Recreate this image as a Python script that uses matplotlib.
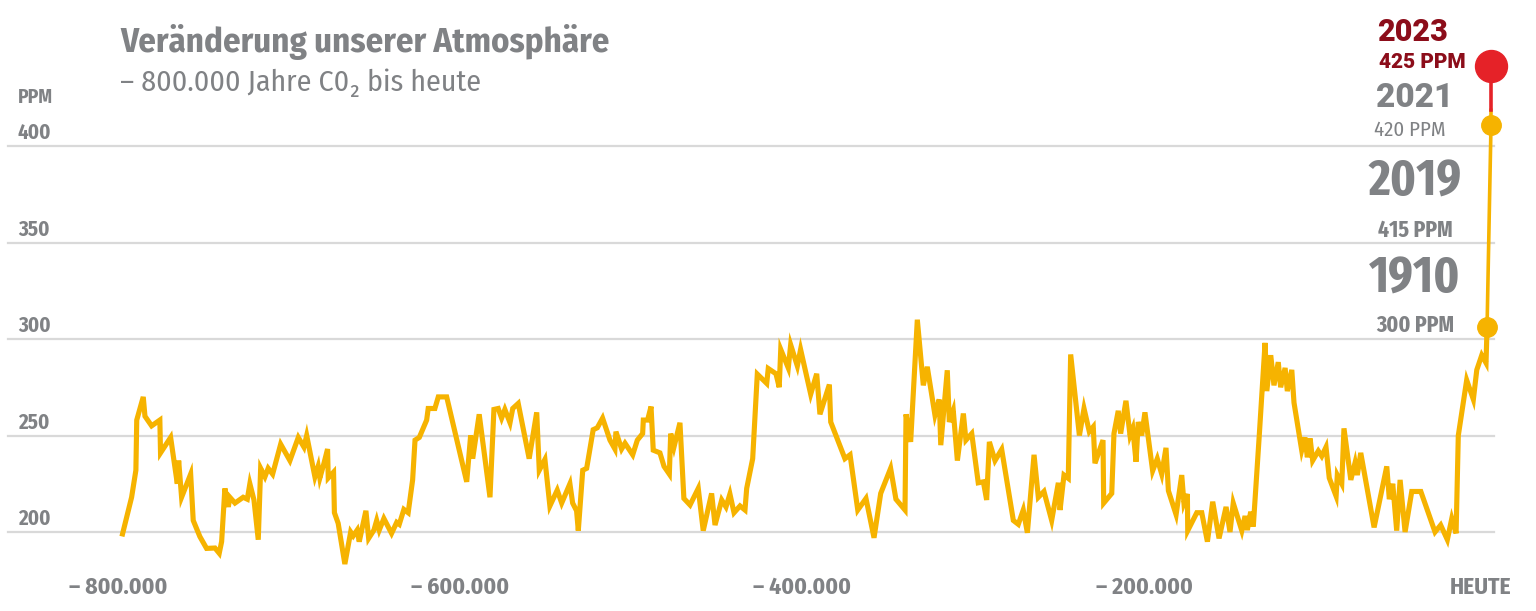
## CO2 concentration over the last 800.000 years

import matplotlib.pyplot as plt

# time in thousand years before today (0 = today), CO2 in ppm
kyr = [-797.3, -792.0, -789.5, -789.0, -785.2, -784.2, -780.3, -775.5, -775.1, -769.2,
       -765.3, -764.5, -762.8, -757.5, -756.0, -752.1, -748.2, -743.3, -740.8, -739.4,
       -737.5, -735.5, -734.6, -731.6, -726.8, -724.4, -722.9, -720.5, -718.0, -716.6,
       -714.1, -712.2, -709.6, -704.9, -699.5, -694.6, -691.3, -689.7, -684.9, -683.0,
       -682.0, -679.6, -677.5, -677.1, -674.0, -673.5, -671.3, -667.4, -664.0, -662.5,
       -660.2, -659.0, -655.1, -653.5, -650.4, -648.8, -647.3, -644.6, -640.1, -637.1,
       -635.6, -632.9, -630.4, -627.8, -626.4, -623.9, -619.6, -618.7, -614.8, -612.8,
       -607.9, -596.2, -593.9, -592.7, -588.9, -582.6, -580.3, -577.8, -575.8, -573.9,
       -570.9, -569.3, -566.1, -559.7, -555.3, -553.8, -550.5, -547.6, -543.3, -540.7,
       -535.9, -534.3, -532.0, -531.0, -528.4, -526.1, -522.3, -519.9, -516.8, -512.5,
       -509.6, -509.0, -505.7, -503.7, -499.2, -496.5, -493.4, -493.0, -490.5, -488.5,
       -487.2, -483.3, -480.9, -477.8, -477.0, -475.1, -471.6, -469.3, -465.7, -460.9,
       -458.0, -453.1, -451.1, -447.2, -444.7, -442.4, -440.0, -436.5, -433.6, -432.6,
       -429.1, -426.4, -420.9, -420.0, -415.5, -413.6, -412.7, -408.3, -406.9, -403.0,
       -401.1, -395.2, -391.7, -389.8, -384.3, -383.5, -375.2, -372.2, -367.7, -362.9,
       -358.2, -354.3, -348.5, -345.4, -340.1, -339.5, -336.8, -332.9, -329.4, -327.1,
       -322.6, -320.1, -319.2, -315.4, -314.2, -311.9, -309.5, -306.0, -304.5, -301.1,
       -297.3, -294.3, -292.4, -290.8, -287.5, -283.6, -276.8, -273.9, -271.0, -268.6,
       -264.7, -262.2, -258.9, -254.4, -250.5, -249.5, -247.2, -244.7, -243.3, -238.2,
       -235.5, -232.4, -230.1, -229.1, -224.4, -224.0, -219.3, -218.0, -215.5, -214.1,
       -211.0, -208.6, -207.0, -205.1, -203.8, -201.8, -199.9, -195.4, -192.7, -190.1,
       -187.6, -186.2, -181.7, -178.4, -177.1, -175.1, -174.9, -169.6, -166.7, -163.4,
       -160.3, -156.6, -152.5, -150.2, -148.3, -143.3, -141.4, -140.1, -138.1, -136.6,
       -133.1, -129.7, -128.7, -126.4, -124.5, -122.0, -120.6, -118.0, -116.7, -114.1,
       -112.8, -108.3, -106.4, -105.0, -103.4, -101.9, -98.6, -96.6, -94.1, -92.2,
       -88.2, -87.5, -84.9, -83.6, -79.6, -77.1, -75.8, -73.8, -66.0, -58.6,
       -57.1, -55.1, -52.8, -50.8, -47.9, -44.0, -38.7, -30.4, -27.1, -23.2,
       -20.6, -18.1, -16.8, -11.9, -8.0, -6.0, -3.1, -0.6]
ppm = [199, 218, 232, 258, 270, 260, 255, 258, 241, 249,
       225, 237, 218, 230, 206, 197.6, 191.5, 191.7, 189, 195,
       222.6, 213, 218, 215, 218, 217, 225, 216.6, 196, 233,
       228.6, 233, 230, 245.5, 237, 249, 244, 250, 228.6, 234,
       228, 235.6, 243, 228, 231, 210, 204.5, 183.4, 200, 198,
       201, 195, 211, 196.7, 201, 206, 201, 207, 199.3, 205,
       204, 211.7, 210, 227, 247.6, 249, 258, 264, 264, 270,
       270, 226, 250, 238, 261, 218, 263.5, 264, 259, 263.5,
       256.6, 264, 266.6, 238, 262, 232, 237.6, 213.5, 221.7, 215,
       225, 215, 211, 200.7, 232, 233, 253, 254, 259, 247.6,
       243, 252, 243, 246, 240, 247.6, 251, 258, 258, 265,
       242.4, 241, 234, 230, 251, 244, 256.6, 217.4, 214, 222.6,
       200.7, 220, 203.6, 216.6, 213, 219.7, 210, 213.5, 211.4, 222.6,
       238, 281.8, 277, 284.7, 282, 275, 294.6, 285, 297, 286,
       294.6, 271.4, 282, 261, 276.4, 257, 238, 240, 211.4, 217.4,
       197, 220, 233, 217, 211.4, 261, 246.7, 310, 276, 285.6,
       260.6, 268.7, 245, 283.8, 257, 263, 237, 261.4, 247.6, 251,
       225.5, 226, 216.6, 246.7, 237, 242.8, 206, 204, 211.4, 199.6,
       240, 218, 221, 206, 225.5, 211.4, 229.5, 227.8, 292, 250,
       264, 252, 254.5, 235.6, 247.6, 215, 220, 251, 262.8, 251,
       268, 250, 253.7, 236.4, 257, 250, 262, 231.7, 238, 230,
       243.6, 221.4, 209, 229.5, 215, 219.7, 200.7, 210, 210, 195,
       215.7, 196.7, 213, 200, 215, 200.7, 208.3, 201, 210.5, 202.8,
       250, 298, 273, 291.6, 276, 288, 275, 285, 273, 284,
       267, 242.4, 249, 238.7, 248.5, 237, 242, 239.3, 244, 228,
       218.6, 229.5, 225, 253.7, 227, 236, 229.5, 241, 202.4, 234,
       217, 225, 200.7, 227, 200, 221, 221, 200, 203.6, 196,
       207, 199.3, 250, 278.7, 268.7, 284, 291.6, 287.6]

# highlighted modern values (as drawn in the graphic)
hl_kyr = [0.0, 2.3]
hl_ppm = [306, 410.7]
top_ppm = [418.5, 441.7]

yticks = [200, 250, 300, 350, 400]
xticks = [-800, -600, -400, -200, 0]
xlabels = ["– 800.000", "– 600.000", "– 400.000", "– 200.000", "HEUTE"]

narrow = ["Fira Sans Condensed", "DejaVu Sans"]
xnarrow = ["Fira Sans Extra Condensed", "Fira Sans Condensed", "DejaVu Sans"]
wide = ["Roboto", "DejaVu Sans"]

gray = "#808285"
darkred = "#8c0d1a"
orange = "#f6b300"
red = "#e52228"

fig = plt.figure(figsize=(15.36, 6.11), dpi=100)
ax = fig.add_axes([0, 0, 1, 1])
ax.set_xlim(-868.9, 28.6)
ax.set_ylim(159.07, 475.65)
ax.axis("off")

for t in yticks:
    ax.axhline(t, xmin=8 / 1536, xmax=1494 / 1536, color="#d9d9d9", lw=1.6, zorder=1)
    ax.text(18 / 1536, t + 6.7, str(t), transform=ax.get_yaxis_transform(),
            ha="left", va="center", fontsize=15, fontweight="bold", color=gray, family=narrow)

ax.plot(kyr + [hl_kyr[0]], ppm + [hl_ppm[0]], color=orange, lw=3.7, zorder=3,
        solid_joinstyle="miter")
ax.plot([hl_kyr[0], hl_kyr[1], hl_kyr[1]], [hl_ppm[0], hl_ppm[1], top_ppm[0]],
        color=orange, lw=2.6, zorder=3)
ax.plot([hl_kyr[1], hl_kyr[1]], top_ppm, color=red, lw=2.6, zorder=3)
ax.plot(hl_kyr, hl_ppm, "o", color=orange, ms=14, zorder=4)
ax.plot([hl_kyr[1]], [top_ppm[1]], "o", color=red, ms=23, zorder=4)

for x, lab in zip(xticks, xlabels):
    ax.text(x if x != 0 else -4, 0.038, lab, transform=ax.get_xaxis_transform(),
            ha="center", va="center", fontsize=17, fontweight="bold", color=gray, family=narrow)

def fpos(px, py):
    return px / 1536, 1 - py / 611

ax.text(*fpos(120, 42), "Veränderung unserer Atmosphäre", transform=ax.transAxes,
        ha="left", va="center", fontsize=25, fontweight="bold", color=gray, family=narrow)
ax.text(*fpos(120, 83), "– 800.000 Jahre C0₂ bis heute", transform=ax.transAxes,
        ha="left", va="center", fontsize=21.5, color=gray, family=narrow)
ax.text(*fpos(18, 97), "PPM", transform=ax.transAxes,
        ha="left", va="center", fontsize=14, fontweight="bold", color=gray, family=narrow)

cx = 1415
ax.text(*fpos(cx - 2, 32), "2023", transform=ax.transAxes, ha="center", va="center",
        fontsize=22, fontweight="heavy", color=darkred, family=wide)
ax.text(*fpos(cx + 7, 63), "425 PPM", transform=ax.transAxes, ha="center", va="center",
        fontsize=15, fontweight="heavy", color=darkred, family=wide)
ax.text(*fpos(cx, 98), "2021", transform=ax.transAxes, ha="center", va="center",
        fontsize=24, fontweight="heavy", color=gray, family=wide)
ax.text(*fpos(cx - 5, 130), "420 PPM", transform=ax.transAxes, ha="center", va="center",
        fontsize=15, color=gray, family=narrow)
ax.text(*fpos(cx, 182), "2019", transform=ax.transAxes, ha="center", va="center",
        fontsize=37, fontweight="bold", color=gray, family=xnarrow)
ax.text(*fpos(cx, 230), "415 PPM", transform=ax.transAxes, ha="center", va="center",
        fontsize=17, fontweight="bold", color=gray, family=xnarrow)
ax.text(*fpos(cx, 279), "1910", transform=ax.transAxes, ha="center", va="center",
        fontsize=37, fontweight="bold", color=gray, family=xnarrow)
ax.text(*fpos(cx, 325), "300 PPM", transform=ax.transAxes, ha="center", va="center",
        fontsize=17, fontweight="bold", color=gray, family=xnarrow)

plt.savefig("out.png", dpi=100)
